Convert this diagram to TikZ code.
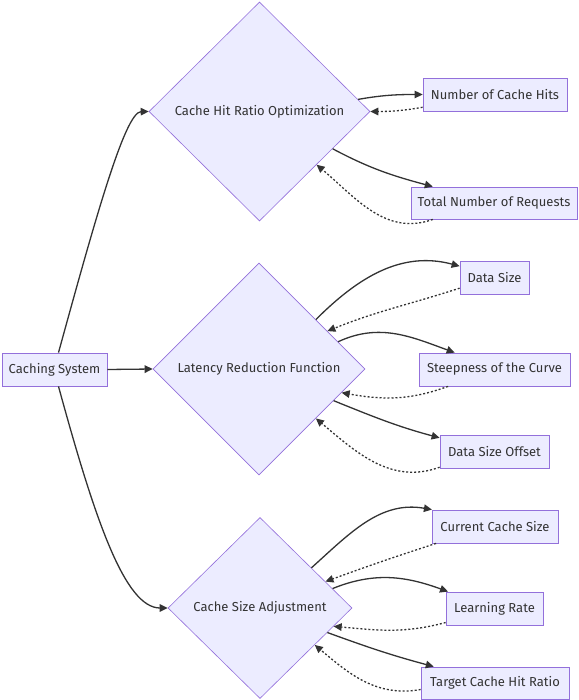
\documentclass[tikz,border=0pt]{standalone}
\usepackage{fontspec}
\setmainfont{Fira Sans}
\usetikzlibrary{shapes.geometric,arrows.meta}
\definecolor{mfill}{HTML}{ECECFF}
\definecolor{mborder}{HTML}{9370DB}
\definecolor{mline}{HTML}{333333}
\definecolor{mtext}{HTML}{333333}
\tikzset{
  box/.style={draw=mborder, fill=mfill, line width=0.8pt, inner sep=0pt, text=mtext, font=\fontsize{13}{15}\selectfont},
  dia/.style={diamond, draw=mborder, fill=mfill, line width=0.6pt, inner sep=0pt, text=mtext, font=\fontsize{13}{15}\selectfont},
  link/.style={draw=mline, line width=1.3pt, -{Triangle[length=8pt,width=7.5pt]}},
  back/.style={link, dash pattern=on 2pt off 2pt}
}
\begin{document}
\begin{tikzpicture}[x=1pt,y=1pt]
\useasboundingbox (0,0) rectangle (578,-700);
% main nodes
\node[box, minimum width=105, minimum height=33] (cs) at (54.5,-369.5) {Caching System};
\node[dia, minimum width=221, minimum height=219] (d1) at (259.5,-111.5) {Cache Hit Ratio Optimization};
\node[dia, minimum width=212, minimum height=212] (d2) at (259,-369) {Latency Reduction Function};
\node[dia, minimum width=184, minimum height=181] (d3) at (260,-608) {Cache Size Adjustment};
% leaf nodes
\node[box, minimum width=144, minimum height=33] (nch) at (495,-94.5) {Number of Cache Hits};
\node[box, minimum width=166, minimum height=32] (tnr) at (494,-203) {Total Number of Requests};
\node[box, minimum width=69, minimum height=33] (ds) at (494.5,-277.5) {Data Size};
\node[box, minimum width=151, minimum height=33] (st) at (494.5,-369.5) {Steepness of the Curve};
\node[box, minimum width=109, minimum height=33] (dso) at (494.5,-451.5) {Data Size Offset};
\node[box, minimum width=126, minimum height=33] (ccs) at (495,-526.5) {Current Cache Size};
\node[box, minimum width=97, minimum height=33] (lr) at (494.5,-608.5) {Learning Rate};
\node[box, minimum width=148, minimum height=32] (tc) at (495,-683) {Target Cache Hit Ratio};
% root edges
\draw[link] ([xshift=4pt]cs.north) .. controls (95,-220) and (125,-112) .. (d1.west);
\draw[link] (cs.east) -- (d2.west);
\draw[link] ([xshift=4pt]cs.south) .. controls (95,-520) and (125,-608) .. (d3.west);
% d1
\draw[link] (d1.7) to[out=10,in=180] (nch.west);
\draw[back] (nch.190) to[out=190,in=0] (d1.east);
\draw[link] (d1.-27) to[out=-28,in=165] (tnr.165);
\draw[back] (tnr.195) to[out=200,in=-40] (d1.-43);
% d2
\draw[link] (d2.41) to[out=45,in=165] (ds.162);
\draw[back] (ds.197) to[out=198,in=22] (d2.29);
\draw[link] (d2.19) to[out=25,in=160] (st.157);
\draw[back] (st.200) to[out=200,in=-10] (d2.-16);
\draw[link] (d2.-23) to[out=-22,in=165] (dso.166);
\draw[back] (dso.196) to[out=200,in=-40] (d2.-41);
% d3
\draw[link] (d3.38) to[out=42,in=170] (ccs.165);
\draw[back] (ccs.196) to[out=198,in=20] (d3.22);
\draw[link] (d3.15) to[out=22,in=160] (lr.160);
\draw[back] (lr.196) to[out=195,in=-5] (d3.-14);
\draw[link] (d3.-20) to[out=-20,in=165] (tc.165);
\draw[back] (tc.185) to[out=190,in=-40] (d3.-34);
\end{tikzpicture}
\end{document}
